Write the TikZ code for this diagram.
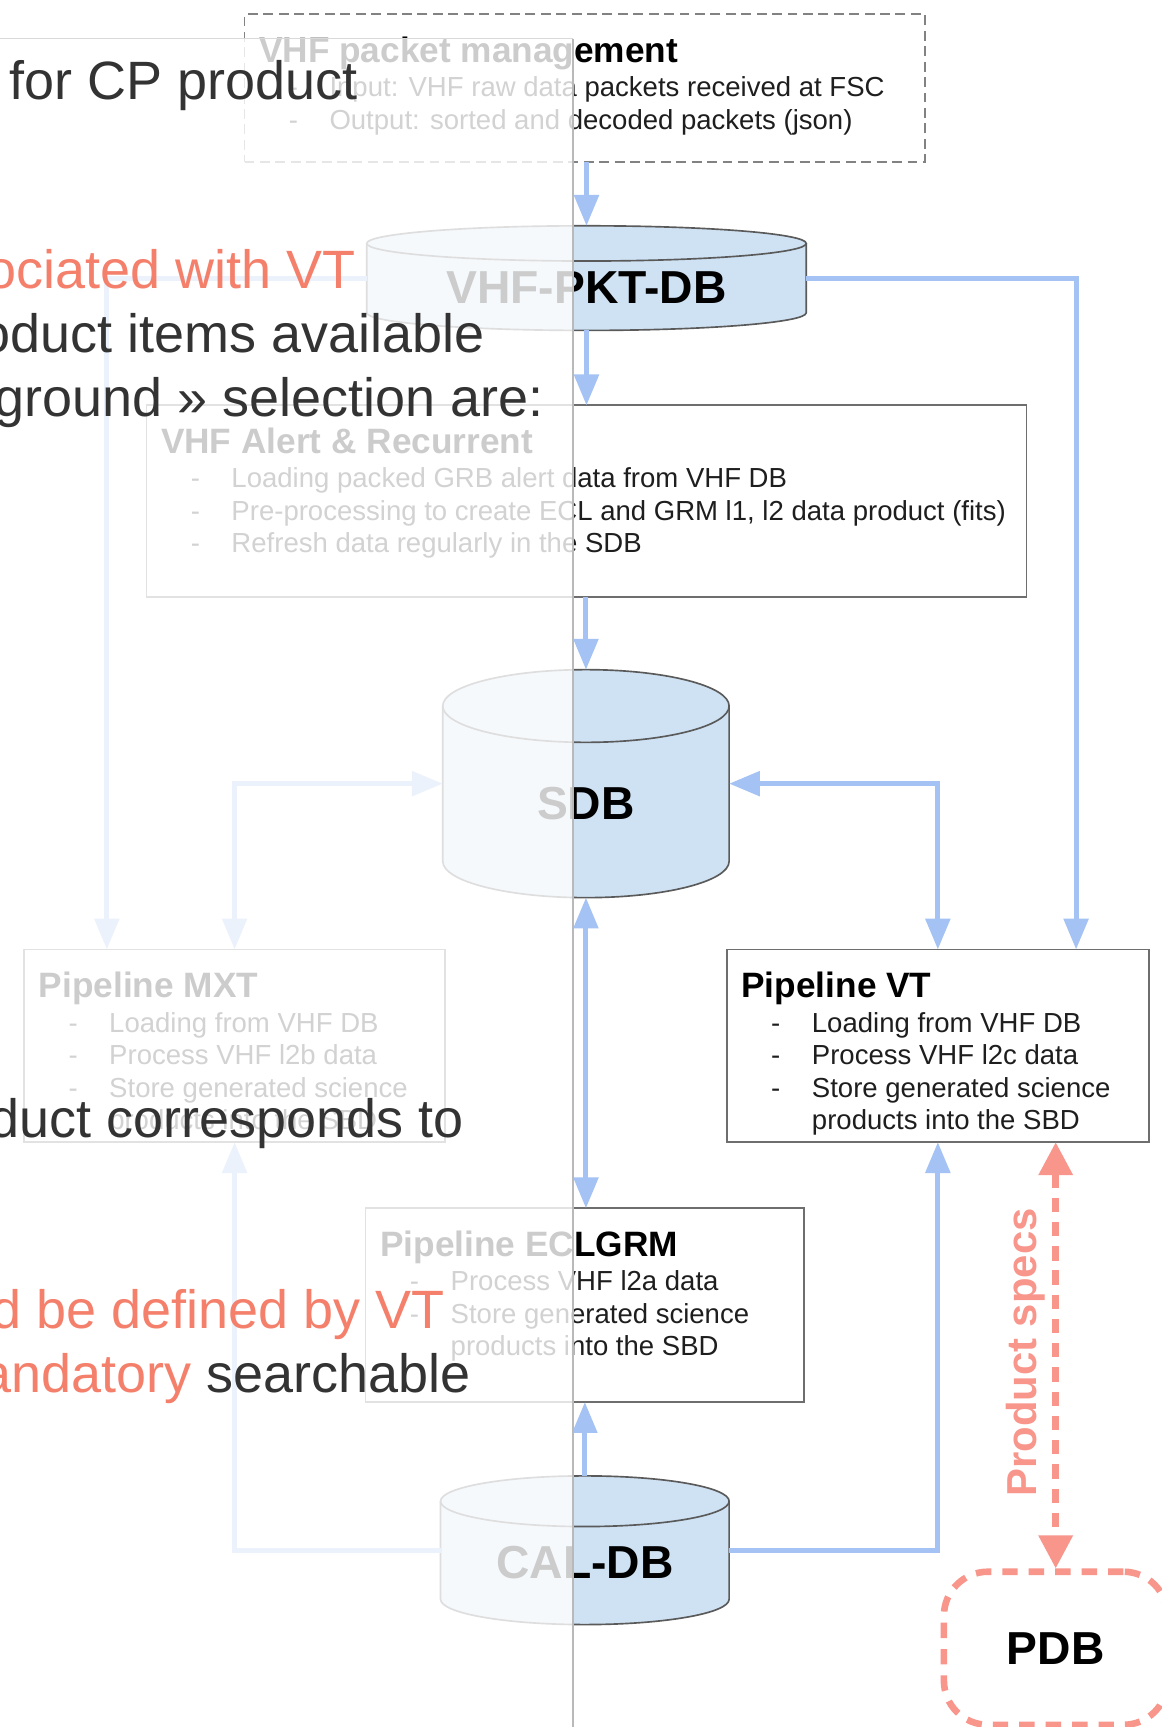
\documentclass[tikz,border=0pt]{standalone}
\usepackage{fontspec}
\setmainfont{Liberation Sans}
\usetikzlibrary{calc,arrows.meta}
\definecolor{blueline}{RGB}{164,194,244}
\definecolor{cylblue}{RGB}{207,226,243}
\definecolor{cylgray}{RGB}{90,90,90}
\definecolor{boxgray}{RGB}{110,110,110}
\definecolor{dashgray}{RGB}{130,130,130}
\definecolor{specred}{RGB}{248,150,140}
\definecolor{slidedark}{RGB}{51,51,51}
\definecolor{slidered}{RGB}{244,128,108}
\definecolor{itemtext}{RGB}{30,30,30}
% cylinder: cx, top, half width, height, ellipse radius
\newcommand\dbcyl[5]{%
  \fill[cylfill] ({#1-#3},{#2+#5}) -- ({#1-#3},{#2+#4-#5})
    .. controls ({#1-#3},{#2+#4-0.4477*#5}) and ({#1-0.5523*#3},{#2+#4}) .. ({#1},{#2+#4})
    .. controls ({#1+0.5523*#3},{#2+#4}) and ({#1+#3},{#2+#4-0.4477*#5}) .. ({#1+#3},{#2+#4-#5})
    -- ({#1+#3},{#2+#5}) -- cycle;
  \draw[cylline] ({#1-#3},{#2+#5}) -- ({#1-#3},{#2+#4-#5})
    .. controls ({#1-#3},{#2+#4-0.4477*#5}) and ({#1-0.5523*#3},{#2+#4}) .. ({#1},{#2+#4})
    .. controls ({#1+0.5523*#3},{#2+#4}) and ({#1+#3},{#2+#4-0.4477*#5}) .. ({#1+#3},{#2+#4-#5})
    -- ({#1+#3},{#2+#5});
  \filldraw[cylfill,cylline] ({#1},{#2+#5}) ellipse [x radius=#3pt, y radius=#5pt];
}
\newcommand\boxitem[4]{\node[itm] (#1) at ($(#2.north west)+(40,#3)$) {\makebox[37pt][l]{-}#4};}
\newcommand\boxcont[4]{\node[itm] (#1) at ($(#2.north west)+(77,#3)$) {#4};}
\begin{document}
\begin{tikzpicture}[x=1pt, y=-1pt,
  anchorbox/.style={inner sep=0pt, outer sep=0pt},
  procbox/.style={draw=boxgray, line width=1.5pt, inner sep=0pt, outer sep=0pt, fill=white},
  ttl/.style={font=\fontsize{32}{36}\selectfont\bfseries, anchor=base west, inner sep=0pt, text=black},
  itm/.style={font=\fontsize{25}{29}\selectfont, anchor=base west, inner sep=0pt, text=itemtext},
  dblabel/.style={font=\fontsize{42}{48}\selectfont\bfseries, inner sep=0pt, text=black},
  cylfill/.style={fill=cylblue},
  cylline/.style={draw=cylgray, line width=1.5pt},
  conn/.style={draw=blueline, line width=4.5pt, -{Triangle[length=28pt,width=22pt]}},
  conntwo/.style={draw=blueline, line width=4.5pt, {Triangle[length=28pt,width=22pt]}-{Triangle[length=28pt,width=22pt]}},
  specs/.style={draw=specred, line width=6pt, dash pattern=on 13pt off 9pt, {Triangle[length=30pt,width=30pt]}-{Triangle[length=30pt,width=30pt]}},
  slide/.style={font=\fontsize{49}{58}\selectfont, text=slidedark, inner sep=0pt}
]
\useasboundingbox (0,0) rectangle (1055,1568);
\clip (0,0) rectangle (1055,1568);
\fill[white] (0,0) rectangle (1055,1568);

% ---------- process boxes ----------
\node[procbox, draw=dashgray, dash pattern=on 9pt off 5pt, minimum width=618pt, minimum height=134pt] (vhfpm) at (531,80) {};
\node[ttl] (vhfpmT) at ($(vhfpm.north west)+(13,44)$) {VHF packet management};
\boxitem{vhfpmA}{vhfpm}{75}{Input: VHF raw data packets received at FSC}
\boxitem{vhfpmB}{vhfpm}{104.5}{Output: sorted and decoded packets (json)}

\node[procbox, minimum width=799pt, minimum height=174pt] (alert) at (532.5,455) {};
\node[ttl] (alertT) at ($(alert.north west)+(13,44)$) {VHF Alert \& Recurrent};
\boxitem{alertA}{alert}{75}{Loading packed GRB alert data from VHF DB}
\boxitem{alertB}{alert}{104.5}{Pre-processing to create ECL and GRM l1, l2 data product (fits)}
\boxitem{alertC}{alert}{134}{Refresh data regularly in the SDB}

\node[procbox, minimum width=382pt, minimum height=175pt] (mxt) at (213,949.5) {};
\node[ttl] (mxtT) at ($(mxt.north west)+(13,44)$) {Pipeline MXT};
\boxitem{mxtA}{mxt}{75}{Loading from VHF DB}
\boxitem{mxtB}{mxt}{104.5}{Process VHF l2b data}
\boxitem{mxtC}{mxt}{134}{Store generated science}
\boxcont{mxtD}{mxt}{163.5}{products into the SBD}

\node[procbox, minimum width=383pt, minimum height=175pt] (vt) at (851.5,949.5) {};
\node[ttl] (vtT) at ($(vt.north west)+(13,44)$) {Pipeline VT};
\boxitem{vtA}{vt}{75}{Loading from VHF DB}
\boxitem{vtB}{vt}{104.5}{Process VHF l2c data}
\boxitem{vtC}{vt}{134}{Store generated science}
\boxcont{vtD}{vt}{163.5}{products into the SBD}

\node[procbox, minimum width=398pt, minimum height=176pt] (ecl) at (531,1185) {};
\node[ttl] (eclT) at ($(ecl.north west)+(13,44)$) {Pipeline ECLGRM};
\boxitem{eclA}{ecl}{75}{Process VHF l2a data}
\boxitem{eclB}{ecl}{104.5}{Store generated science}
\boxcont{eclC}{ecl}{134}{products into the SBD}

% ---------- databases ----------
\node[anchorbox, minimum width=399pt, minimum height=95pt] (pkt) at (532.5,252.5) {};
\dbcyl{532.5}{205}{199.5}{95}{16}
\node[dblabel] (pktL) at (532.5,261) {VHF-PKT-DB};

\node[anchorbox, minimum width=260pt, minimum height=207pt] (sdb) at (532,711.5) {};
\dbcyl{532}{608}{130}{207}{33}
\node[dblabel] (sdbL) at (532,730) {SDB};

\node[anchorbox, minimum width=262pt, minimum height=135pt] (cal) at (531,1407.5) {};
\dbcyl{531}{1340}{131}{135}{23}
\node[dblabel] (calL) at (531,1419) {CAL-DB};

\node[draw=specred, line width=6pt, dash pattern=on 14pt off 10pt, rounded corners=40pt,
      minimum width=203pt, minimum height=139pt, inner sep=0pt,
      font=\fontsize{42}{48}\selectfont\bfseries] (pdb) at (958.5,1496.5) {PDB};

% ---------- connectors ----------
\draw[conn] (pkt.north |- vhfpm.south) -- (pkt.north);
\draw[conn] (pkt.south) -- (pkt.south |- alert.north);
\draw[conn] (sdb.north |- alert.south) -- (sdb.north);
\draw[conntwo] (sdb.south) -- (sdb.south |- ecl.north);
\draw[conn] (cal.north) -- (cal.north |- ecl.south);
\draw[conn] (pkt.east) -| ($(vt.north east)+(-66,0)$);
\draw[conntwo] (sdb.east) -| (vt.north);
\draw[conn] (cal.east) -| (vt.south);
\draw[conn] (pkt.west) -| ($(mxt.north west)+(75,0)$);
\draw[conntwo] (sdb.west) -| (mxt.north);
\draw[conn] (cal.west) -| (mxt.south);

\draw[specs] (pdb.north |- vt.south) -- (pdb.north);
\node[font=\fontsize{38}{44}\selectfont\bfseries, text=specred, rotate=90, inner sep=0pt] (spec) at (931,1228) {Product specs};

% ---------- slide panel overlay ----------
\fill[white, opacity=0.8] (0,35) rectangle (520,1568);
\draw[gray!30, line width=1.5pt] (0,35) -- (520,35);
\draw[gray!55, line width=2pt] (520,35) -- (520,1568);

\node[slide, anchor=base east] (s1) at (325,90) {for CP product};
\node[slide, anchor=base east, text=slidered] (s2) at (323,262) {ociated with VT};
\node[slide, anchor=base east] (s3) at (440,320) {oduct items available};
\node[slide, anchor=base east] (s4) at (494,378) {ground » selection are:};
\node[slide, anchor=base east] (s5) at (421,1033) {duct corresponds to};
\node[slide, anchor=base east, text=slidered] (s6) at (404,1206) {d be defined by VT};
\node[slide, anchor=base east] (s7) at (427,1264) {\textcolor{slidered}{andatory} searchable};
\end{tikzpicture}
\end{document}
